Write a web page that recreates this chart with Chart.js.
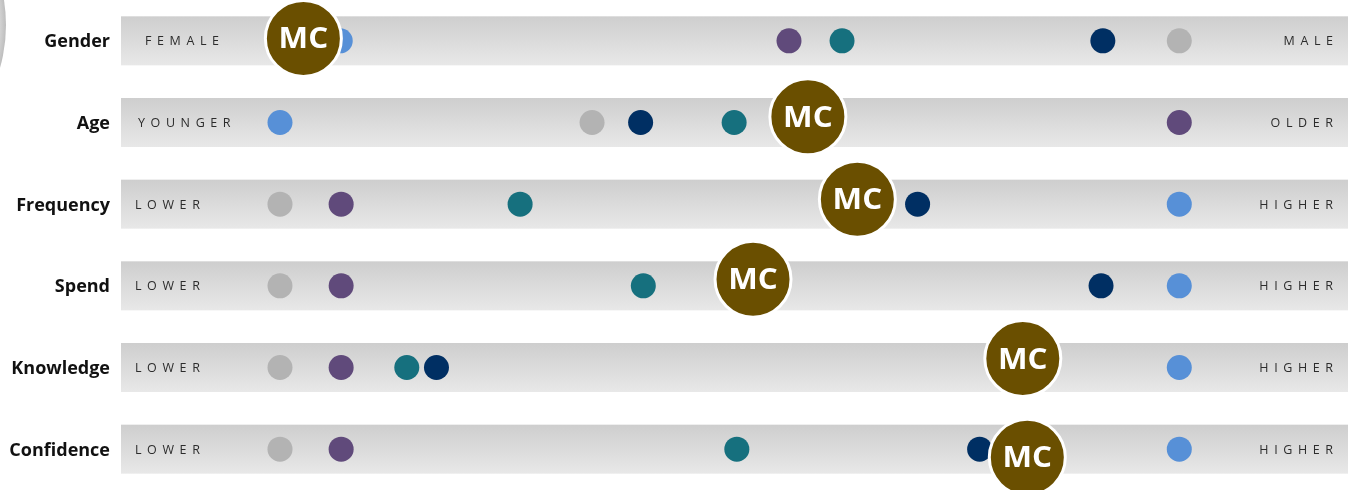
<!DOCTYPE html>
<html>
<head>
<meta charset="utf-8">
<script src="https://cdn.jsdelivr.net/npm/chart.js@4.4.1/dist/chart.umd.min.js"></script>
<style>
  html, body { margin: 0; padding: 0; background: #ffffff; overflow: hidden; }
  canvas { display: block; }
</style>
</head>
<body>
<canvas id="profile" width="1358" height="490"></canvas>
<script>
// Profile dimensions, top to bottom
const rows = ['Gender', 'Age', 'Frequency', 'Spend', 'Knowledge', 'Confidence'];
const lowLabels = ['FEMALE', 'YOUNGER', 'LOWER', 'LOWER', 'LOWER', 'LOWER'];
const highLabels = ['MALE', 'OLDER', 'HIGHER', 'HIGHER', 'HIGHER', 'HIGHER'];

// Segment scores on a 0 (low end) to 100 (high end) scale, one per dimension
const blueSeg   = [6.7, 0, 100, 100, 100, 100];
const greySeg   = [100, 34.7, 0, 0, 0, 0];
const purpleSeg = [56.6, 100, 6.8, 6.8, 6.8, 6.8];
const tealSeg   = [62.5, 50.5, 26.7, 40.4, 14.1, 50.8];
const navySeg   = [91.5, 40.1, 70.9, 91.3, 17.4, 77.8];
const mcScore   = [2.6, 58.7, 64.2, 52.6, 82.6, 83.1];
const mcRowPos  = [-0.03, 0.93, 1.94, 2.92, 3.89, 5.10];

// Layout of the track artwork
const TRACK_HEIGHT = 49;
const LOW_INSET = [24, 17, 14, 14, 14, 14];
const HIGH_INSET = 15;

function toPoints(values, rowPos) {
  return values.map((v, i) => ({ x: v, y: rowPos ? rowPos[i] : i }));
}

const series = [
  { label: 'MC',     data: toPoints(mcScore, mcRowPos), color: '#6a4f00', radius: 38, border: 3, order: 0 },
  { label: 'Navy',   data: toPoints(navySeg),   color: '#002f63', radius: 12.5, border: 0, order: 1 },
  { label: 'Teal',   data: toPoints(tealSeg),   color: '#16707e', radius: 12.5, border: 0, order: 2 },
  { label: 'Purple', data: toPoints(purpleSeg), color: '#604a7b', radius: 12.5, border: 0, order: 3 },
  { label: 'Grey',   data: toPoints(greySeg),   color: '#b3b3b3', radius: 12.5, border: 0, order: 4 },
  { label: 'Blue',   data: toPoints(blueSeg),   color: '#5790d7', radius: 12.5, border: 0, order: 5 }
];

function spacedText(ctx, text, x, y, align, spacing) {
  ctx.save();
  ctx.letterSpacing = spacing + 'px';
  const w = ctx.measureText(text).width - spacing; // drop trailing gap
  const startX = align === 'right' ? x - w : x;
  ctx.textAlign = 'left';
  ctx.fillText(text, startX, y);
  ctx.restore();
}

const trackPlugin = {
  id: 'tracks',
  beforeDatasetsDraw(chart) {
    const { ctx, chartArea: a, scales: { y } } = chart;
    ctx.save();

    // rounded sphere edge peeking in at the top-left corner
    const sg = ctx.createRadialGradient(-150, 25, 118, -150, 25, 156);
    sg.addColorStop(0, '#ffffff');
    sg.addColorStop(0.7, '#e6e6e6');
    sg.addColorStop(1, '#bdbdbd');
    ctx.fillStyle = sg;
    ctx.beginPath();
    ctx.arc(-150, 25, 156, 0, Math.PI * 2);
    ctx.fill();

    rows.forEach((name, i) => {
      const cy = y.getPixelForValue(i);
      const top = cy - TRACK_HEIGHT / 2;
      const g = ctx.createLinearGradient(0, top, 0, top + TRACK_HEIGHT);
      g.addColorStop(0, '#cecece');
      g.addColorStop(1, '#e8e8e8');
      ctx.fillStyle = g;
      ctx.fillRect(a.left, top, a.right - a.left, TRACK_HEIGHT);

      // dimension name
      ctx.fillStyle = '#111111';
      ctx.font = 'bold 18px "Open Sans"';
      ctx.textAlign = 'right';
      ctx.textBaseline = 'alphabetic';
      ctx.fillText(name, a.left - 11, cy + 6.5);

      // end-of-scale captions
      ctx.fillStyle = '#2c2c2c';
      ctx.font = '12.5px "Open Sans"';
      spacedText(ctx, lowLabels[i], a.left + LOW_INSET[i], cy + 4.5, 'left', 5.6);
      spacedText(ctx, highLabels[i], a.right - HIGH_INSET, cy + 4.5, 'right', 5.6);
    });
    ctx.restore();
  },
  afterDatasetsDraw(chart) {
    const { ctx } = chart;
    const meta = chart.getDatasetMeta(0);
    ctx.save();
    ctx.fillStyle = '#ffffff';
    ctx.font = 'bold 28px "Open Sans"';
    ctx.textAlign = 'center';
    ctx.textBaseline = 'alphabetic';
    meta.data.forEach(pt => {
      ctx.save();
      ctx.translate(pt.x, pt.y + 10);
      ctx.scale(1.12, 1);
      ctx.fillText('MC', 0, 0);
      ctx.restore();
    });
    ctx.restore();
  }
};

new Chart(document.getElementById('profile'), {
  type: 'scatter',
  data: {
    datasets: series.map(s => ({
      label: s.label,
      data: s.data,
      backgroundColor: s.color,
      borderColor: '#ffffff',
      borderWidth: s.border,
      pointRadius: s.radius,
      pointHoverRadius: s.radius,
      order: s.order,
      clip: false
    }))
  },
  options: {
    responsive: false,
    animation: false,
    devicePixelRatio: 1,
    layout: { autoPadding: false, padding: { left: 121, right: 10, top: 0, bottom: 0 } },
    plugins: { legend: { display: false }, tooltip: { enabled: false } },
    scales: {
      x: { type: 'linear', min: -17.68, max: 118.76, display: false },
      y: { type: 'linear', min: -0.5, max: 5.5, reverse: true, display: false }
    }
  },
  plugins: [trackPlugin]
});
</script>
</body>
</html>
